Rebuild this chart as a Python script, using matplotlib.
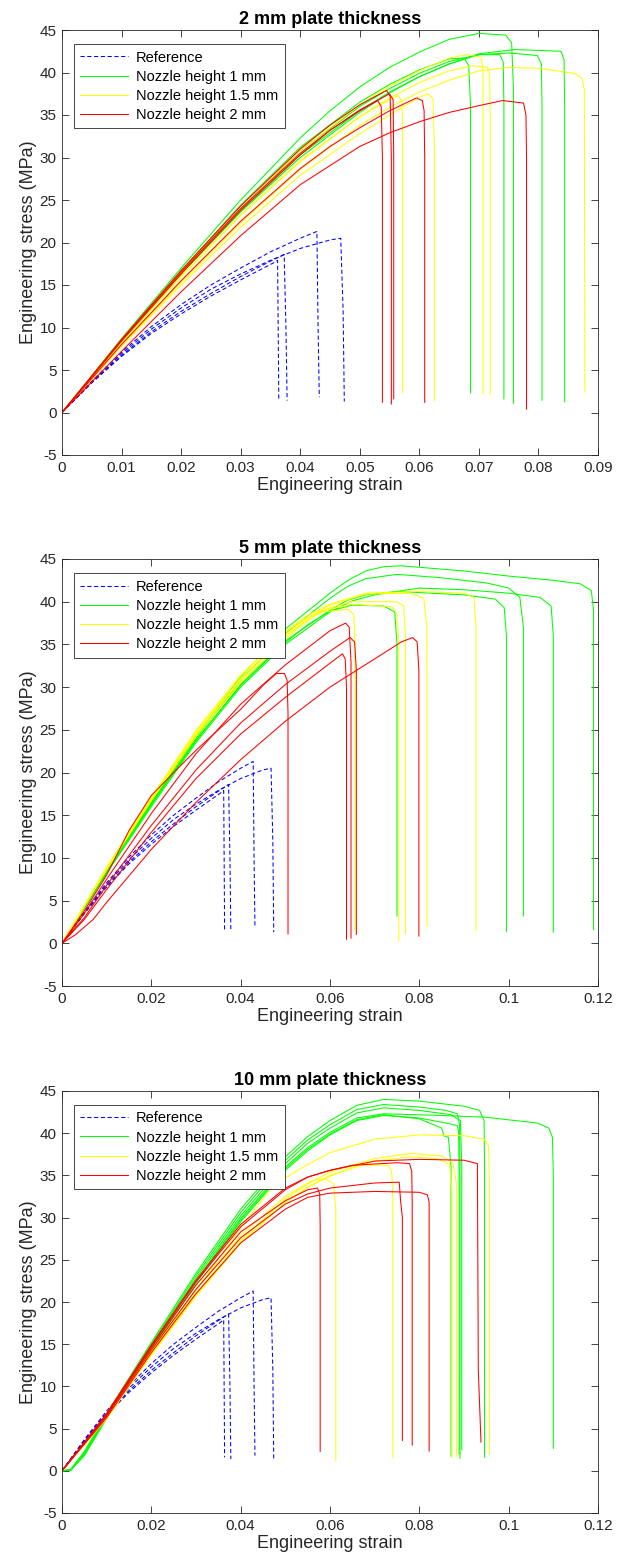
import matplotlib
matplotlib.use("Agg")
import matplotlib.pyplot as plt
from matplotlib.lines import Line2D

plt.rcParams["font.family"] = ["Liberation Sans", "DejaVu Sans"]

# =====================
# DATA (strain, stress in MPa)
# =====================
# reference specimens, same in all three panels
ref_curves = [
    [(0, 0), (0.005, 3.5), (0.01, 6.6), (0.015, 9.3), (0.02, 11.6), (0.025, 13.7),
     (0.03, 15.6), (0.0355, 17.6), (0.0362, 17.9), (0.0363, 10.0), (0.0364, 1.6)],
    [(0, 0), (0.005, 3.5), (0.01, 6.7), (0.015, 9.5), (0.02, 11.9), (0.025, 14.0),
     (0.03, 16.0), (0.035, 17.8), (0.0373, 18.6), (0.0376, 10.0), (0.0378, 1.4)],
    [(0, 0), (0.005, 3.7), (0.01, 7.1), (0.015, 10.1), (0.02, 12.7), (0.025, 15.0),
     (0.03, 17.0), (0.035, 18.9), (0.04, 20.5), (0.0428, 21.3), (0.043, 10.0), (0.0432, 1.8)],
    [(0, 0), (0.005, 3.6), (0.01, 6.9), (0.015, 9.8), (0.02, 12.3), (0.025, 14.5),
     (0.03, 16.3), (0.035, 17.9), (0.04, 19.3), (0.045, 20.3), (0.0468, 20.5),
     (0.0472, 12.0), (0.0474, 1.3)],
]

# 2 mm plate
p2_green = [
    [(0, 0), (0.01, 8.7), (0.02, 17.0), (0.03, 25.0), (0.04, 32.3), (0.045, 35.5), (0.05, 38.3),
     (0.055, 40.6), (0.06, 42.4), (0.065, 43.9), (0.07, 44.6), (0.0745, 44.4), (0.0755, 43.5),
     (0.0758, 38.0), (0.0758, 1.1)],
    [(0, 0), (0.01, 8.6), (0.02, 16.7), (0.03, 24.4), (0.04, 31.2), (0.05, 36.5), (0.055, 38.6),
     (0.06, 40.3), (0.065, 41.6), (0.0675, 41.7), (0.0683, 40.8), (0.0686, 36.0), (0.0686, 2.3)],
    [(0, 0), (0.01, 8.5), (0.02, 16.5), (0.03, 24.0), (0.04, 30.8), (0.05, 36.0), (0.055, 38.1),
     (0.06, 39.9), (0.065, 41.3), (0.07, 42.1), (0.0735, 42.1), (0.0741, 41.2), (0.0742, 36.0),
     (0.0742, 1.6)],
    [(0, 0), (0.01, 8.4), (0.02, 16.3), (0.03, 23.7), (0.04, 30.3), (0.05, 35.5), (0.055, 37.7),
     (0.06, 39.5), (0.065, 41.0), (0.07, 42.1), (0.075, 42.3), (0.0798, 42.0), (0.0805, 41.0),
     (0.0806, 36.0), (0.0806, 1.45)],
    [(0, 0), (0.01, 8.4), (0.02, 16.3), (0.03, 23.6), (0.04, 30.0), (0.05, 35.3), (0.055, 37.6),
     (0.06, 39.5), (0.065, 41.0), (0.07, 42.2), (0.076, 42.7), (0.0838, 42.5), (0.0843, 41.5),
     (0.0844, 36.0), (0.0844, 1.25)],
]
p2_yellow = [
    [(0, 0), (0.01, 8.2), (0.02, 16.0), (0.03, 23.2), (0.04, 29.5), (0.05, 34.8), (0.055, 36.8),
     (0.0565, 37.3), (0.0571, 36.5), (0.0572, 32.0), (0.0572, 2.35)],
    [(0, 0), (0.01, 7.8), (0.02, 15.0), (0.03, 21.8), (0.04, 27.9), (0.05, 32.8), (0.055, 35.0),
     (0.06, 37.1), (0.0615, 37.5), (0.0623, 36.9), (0.0625, 32.0), (0.0625, 1.4)],
    [(0, 0), (0.01, 8.5), (0.02, 16.5), (0.03, 24.0), (0.04, 30.8), (0.05, 36.2), (0.055, 38.4),
     (0.06, 40.2), (0.065, 41.7), (0.068, 42.1), (0.0703, 41.8), (0.0707, 40.5), (0.0707, 2.25)],
    [(0, 0), (0.01, 8.3), (0.02, 16.0), (0.03, 23.2), (0.04, 29.6), (0.05, 34.8), (0.055, 37.0),
     (0.06, 38.8), (0.065, 40.2), (0.069, 40.8), (0.0714, 40.6), (0.0718, 39.8), (0.0719, 35.0),
     (0.0719, 2.1)],
    [(0, 0), (0.01, 7.9), (0.02, 15.3), (0.03, 22.3), (0.04, 28.6), (0.05, 33.8), (0.055, 35.9),
     (0.06, 37.7), (0.065, 39.1), (0.07, 40.2), (0.075, 40.6), (0.08, 40.5), (0.086, 39.9),
     (0.0873, 39.3), (0.0877, 38.0), (0.0878, 2.4)],
]
p2_red = [
    [(0, 0), (0.01, 8.5), (0.02, 16.5), (0.03, 24.0), (0.04, 30.5), (0.045, 33.2), (0.05, 35.5),
     (0.053, 36.7), (0.0536, 36.0), (0.0538, 30.0), (0.0538, 1.2)],
    [(0, 0), (0.01, 8.6), (0.02, 16.7), (0.03, 24.3), (0.04, 31.0), (0.045, 33.8), (0.05, 36.2),
     (0.0545, 37.9), (0.0551, 37.2), (0.0553, 30.0), (0.0553, 1.0)],
    [(0, 0), (0.01, 8.4), (0.02, 16.3), (0.03, 23.8), (0.04, 30.3), (0.045, 33.2), (0.05, 35.6),
     (0.055, 37.5), (0.0556, 36.8), (0.0557, 30.0), (0.0557, 1.6)],
    [(0, 0), (0.01, 8.0), (0.02, 15.5), (0.03, 22.5), (0.04, 28.7), (0.045, 31.3), (0.05, 33.5),
     (0.055, 35.5), (0.0595, 37.0), (0.0605, 36.7), (0.0608, 35.5), (0.0609, 30.0), (0.0609, 1.2)],
    [(0, 0), (0.01, 7.2), (0.02, 14.2), (0.03, 20.8), (0.04, 26.8), (0.05, 31.3), (0.055, 32.9),
     (0.06, 34.2), (0.065, 35.3), (0.07, 36.1), (0.074, 36.7), (0.0775, 36.4), (0.0779, 35.0),
     (0.078, 30.0), (0.078, 0.4)],
]

# 5 mm plate
p5_green = [
    [(0, 0), (0.01, 8.5), (0.02, 16.5), (0.03, 24.3), (0.04, 31.2), (0.05, 36.8), (0.06, 41.0),
     (0.064, 42.5), (0.068, 43.6), (0.072, 44.1), (0.076, 44.2), (0.09, 43.6), (0.1, 43.0),
     (0.11, 42.5), (0.116, 42.1), (0.1185, 41.3), (0.119, 39.0), (0.119, 1.6)],
    [(0, 0), (0.01, 8.5), (0.02, 16.4), (0.03, 24.0), (0.04, 30.8), (0.05, 36.3), (0.06, 40.4),
     (0.064, 41.8), (0.068, 42.7), (0.075, 43.2), (0.085, 42.8), (0.095, 42.2), (0.1, 41.6),
     (0.1025, 40.5), (0.1033, 37.0), (0.1033, 3.2)],
    [(0, 0), (0.01, 8.2), (0.02, 16.0), (0.03, 23.5), (0.04, 30.0), (0.05, 35.0), (0.06, 38.8),
     (0.065, 40.1), (0.07, 40.8), (0.08, 41.6), (0.09, 41.4), (0.1, 41.0), (0.107, 40.5),
     (0.1095, 39.5), (0.11, 36.0), (0.11, 1.3)],
    [(0, 0), (0.01, 8.3), (0.02, 16.2), (0.03, 23.7), (0.04, 30.3), (0.05, 35.4), (0.06, 39.0),
     (0.064, 40.2), (0.068, 40.8), (0.075, 41.2), (0.09, 40.8), (0.097, 40.3), (0.099, 39.3),
     (0.0995, 36.0), (0.0995, 1.4)],
    [(0, 0), (0.01, 8.4), (0.02, 16.3), (0.03, 23.8), (0.04, 30.2), (0.05, 35.2), (0.055, 37.3),
     (0.06, 38.9), (0.065, 39.6), (0.072, 39.5), (0.0745, 38.8), (0.075, 35.0), (0.075, 3.2)],
]
p5_yellow = [
    [(0, 0), (0.01, 8.8), (0.02, 17.0), (0.03, 24.8), (0.04, 31.3), (0.05, 36.5), (0.055, 38.4),
     (0.06, 39.7), (0.068, 41.0), (0.08, 41.2), (0.09, 41.0), (0.0922, 40.5), (0.0927, 37.0),
     (0.0927, 1.5)],
    [(0, 0), (0.01, 8.7), (0.02, 16.9), (0.03, 24.6), (0.04, 31.0), (0.05, 36.1), (0.055, 38.1),
     (0.06, 39.6), (0.068, 40.9), (0.078, 41.0), (0.081, 40.4), (0.0817, 37.0), (0.0817, 2.0)],
    [(0, 0), (0.01, 8.7), (0.02, 16.8), (0.03, 24.4), (0.04, 30.8), (0.05, 35.9), (0.055, 37.9),
     (0.06, 39.3), (0.065, 40.0), (0.075, 40.0), (0.0765, 39.5), (0.0769, 36.0), (0.0769, 1.1)],
    [(0, 0), (0.01, 8.6), (0.02, 16.7), (0.03, 24.2), (0.04, 30.5), (0.05, 35.6), (0.054, 37.4),
     (0.058, 38.9), (0.065, 39.7), (0.074, 39.4), (0.075, 38.5), (0.0754, 35.0), (0.0754, 0.35)],
    [(0, 0), (0.01, 8.9), (0.02, 17.1), (0.03, 24.9), (0.04, 31.4), (0.05, 36.4), (0.054, 37.9),
     (0.058, 38.8), (0.064, 39.1), (0.0653, 38.5), (0.0656, 35.0), (0.0656, 1.5)],
]
p5_red = [
    [(0, 0), (0.005, 3.8), (0.01, 8.0), (0.015, 13.2), (0.02, 17.3), (0.025, 20.0), (0.03, 22.6),
     (0.035, 25.0), (0.04, 27.4), (0.045, 30.2), (0.048, 31.6), (0.0498, 31.6), (0.0504, 30.8),
     (0.0506, 27.0), (0.0506, 1.1)],
    [(0, 0), (0.005, 3.5), (0.01, 7.5), (0.02, 15.2), (0.03, 22.2), (0.04, 28.0), (0.05, 32.6),
     (0.055, 34.6), (0.06, 36.6), (0.0635, 37.5), (0.0643, 37.0), (0.0647, 33.0), (0.0647, 0.6)],
    [(0, 0), (0.005, 3.0), (0.01, 6.8), (0.02, 13.8), (0.03, 20.3), (0.04, 25.8), (0.05, 30.3),
     (0.06, 34.2), (0.0645, 35.8), (0.0655, 35.3), (0.0659, 32.0), (0.0659, 1.05)],
    [(0, 0), (0.005, 2.8), (0.01, 6.3), (0.02, 13.0), (0.03, 19.3), (0.04, 24.5), (0.05, 28.8),
     (0.06, 32.8), (0.0628, 33.9), (0.0634, 33.3), (0.0637, 30.0), (0.0637, 0.47)],
    [(0, 0), (0.003, 1.0), (0.007, 2.8), (0.01, 4.8), (0.02, 11.0), (0.03, 16.5), (0.04, 21.5),
     (0.05, 26.0), (0.06, 30.0), (0.07, 33.3), (0.076, 35.3), (0.0785, 35.8), (0.0795, 35.3),
     (0.0799, 32.0), (0.0799, 0.85)],
]

# 10 mm plate
p10_green = [
    [(0, 0), (0.002, 0.2), (0.005, 2.3), (0.01, 6.8), (0.02, 15.2), (0.03, 23.4), (0.04, 31.0),
     (0.05, 37.2), (0.055, 39.6), (0.06, 41.5), (0.066, 43.3), (0.072, 44.0), (0.08, 43.8),
     (0.09, 43.2), (0.0935, 42.7), (0.0945, 41.5), (0.0946, 36.0), (0.0946, 1.6)],
    [(0, 0), (0.002, 0.1), (0.005, 2.1), (0.01, 6.6), (0.02, 15.0), (0.03, 23.1), (0.04, 30.6),
     (0.05, 36.8), (0.055, 39.2), (0.06, 41.0), (0.066, 42.8), (0.072, 43.4), (0.08, 43.1),
     (0.086, 42.7), (0.0885, 42.3), (0.089, 41.0), (0.0891, 35.0), (0.0891, 1.5)],
    [(0, 0), (0.002, 0.1), (0.005, 2.0), (0.01, 6.5), (0.02, 14.8), (0.03, 22.8), (0.04, 30.2),
     (0.05, 36.4), (0.055, 38.8), (0.06, 40.6), (0.066, 42.4), (0.072, 43.0), (0.08, 42.7),
     (0.087, 42.2), (0.0892, 41.5), (0.0895, 36.0), (0.0895, 2.5)],
    [(0, 0), (0.002, 0.1), (0.005, 1.9), (0.01, 6.3), (0.02, 14.5), (0.03, 22.4), (0.04, 29.7),
     (0.05, 35.8), (0.055, 38.1), (0.06, 39.9), (0.066, 41.6), (0.072, 42.2), (0.08, 41.7),
     (0.085, 40.6), (0.0855, 39.7), (0.0865, 39.5), (0.0871, 36.0), (0.0871, 1.75)],
    [(0, 0), (0.002, 0.1), (0.005, 1.8), (0.01, 6.2), (0.02, 14.3), (0.03, 22.2), (0.04, 29.5),
     (0.05, 35.6), (0.055, 37.9), (0.06, 39.8), (0.066, 41.5), (0.072, 42.1), (0.08, 41.8),
     (0.086, 41.2), (0.0885, 40.9), (0.0888, 40.2), (0.0889, 35.0), (0.0889, 2.0)],
    [(0, 0), (0.002, 0.1), (0.005, 2.0), (0.01, 6.4), (0.02, 14.6), (0.03, 22.5), (0.04, 29.9),
     (0.05, 36.0), (0.055, 38.3), (0.06, 40.1), (0.066, 41.8), (0.072, 42.3), (0.085, 42.1),
     (0.0947, 41.9), (0.1065, 41.2), (0.109, 40.6), (0.1098, 39.5), (0.11, 35.0), (0.11, 2.66)],
]
p10_yellow = [
    [(0, 0), (0.01, 6.3), (0.02, 14.0), (0.03, 21.4), (0.04, 28.8), (0.0473, 33.8), (0.054, 36.0),
     (0.06, 37.7), (0.07, 39.3), (0.08, 39.8), (0.09, 39.7), (0.0945, 39.3), (0.0955, 38.5),
     (0.0957, 34.0), (0.0957, 2.0)],
    [(0, 0), (0.01, 6.3), (0.02, 13.9), (0.03, 21.0), (0.04, 27.3), (0.05, 32.2), (0.055, 34.0),
     (0.06, 35.4), (0.07, 37.0), (0.078, 37.6), (0.085, 37.3), (0.0875, 36.5), (0.0883, 34.0),
     (0.0883, 1.7)],
    [(0, 0), (0.01, 6.2), (0.02, 13.8), (0.03, 20.8), (0.04, 27.0), (0.05, 31.8), (0.055, 33.6),
     (0.06, 34.9), (0.066, 36.2), (0.073, 36.2), (0.0738, 35.5), (0.0741, 32.0), (0.0741, 1.56)],
    [(0, 0), (0.01, 6.4), (0.02, 14.2), (0.03, 21.5), (0.04, 27.9), (0.05, 32.5), (0.056, 34.4),
     (0.059, 34.6), (0.0608, 34.0), (0.0613, 31.0), (0.0613, 1.2)],
    [(0, 0), (0.01, 6.2), (0.02, 13.7), (0.03, 20.7), (0.04, 27.0), (0.05, 31.8), (0.055, 33.6),
     (0.06, 35.0), (0.07, 36.7), (0.078, 37.2), (0.084, 37.0), (0.0868, 36.3), (0.0873, 33.0),
     (0.0873, 1.6)],
]
p10_red = [
    [(0, 0), (0.01, 6.6), (0.02, 14.6), (0.03, 22.0), (0.04, 28.3), (0.05, 32.0), (0.055, 33.3),
     (0.0572, 33.5), (0.0577, 32.8), (0.0578, 29.0), (0.0578, 2.3)],
    [(0, 0), (0.01, 6.5), (0.02, 14.3), (0.03, 21.5), (0.04, 27.6), (0.05, 31.6), (0.055, 32.8),
     (0.06, 33.5), (0.07, 34.1), (0.0755, 34.2), (0.0758, 32.0), (0.0762, 30.0), (0.0762, 3.6)],
    [(0, 0), (0.01, 6.7), (0.02, 14.8), (0.03, 22.4), (0.04, 28.9), (0.05, 33.3), (0.055, 34.8),
     (0.06, 35.6), (0.065, 36.2), (0.075, 36.5), (0.0778, 36.4), (0.0783, 35.5), (0.0784, 32.0),
     (0.0784, 3.05)],
    [(0, 0), (0.01, 6.3), (0.02, 14.0), (0.03, 21.0), (0.04, 27.0), (0.05, 31.0), (0.055, 32.4),
     (0.06, 32.9), (0.07, 33.1), (0.08, 33.0), (0.0818, 32.7), (0.0822, 31.8), (0.0822, 2.35)],
    [(0, 0), (0.01, 6.8), (0.02, 14.9), (0.03, 22.6), (0.04, 29.2), (0.05, 33.5), (0.055, 34.8),
     (0.06, 35.6), (0.07, 36.7), (0.08, 36.9), (0.09, 36.8), (0.093, 36.4), (0.0932, 12.0),
     (0.0938, 3.4)],
]

titles = ["2 mm plate thickness", "5 mm plate thickness", "10 mm plate thickness"]
legend_labels = ["Reference", "Nozzle height 1 mm", "Nozzle height 1.5 mm", "Nozzle height 2 mm"]
panels = [
    (p2_green, p2_yellow, p2_red, 0.09, 0.01),
    (p5_green, p5_yellow, p5_red, 0.12, 0.02),
    (p10_green, p10_yellow, p10_red, 0.12, 0.02),
]
y_ticks = list(range(-5, 50, 5))

# =====================
# PLOT
# =====================
fig = plt.figure(figsize=(6.18, 15.67), dpi=100)
W, H = 618, 1567
boxes = [(62, 30, 598, 455), (62, 559, 598, 986), (62, 1091, 598, 1513)]
axcol = "#262626"
colors = ["#0000ff", "#00ff00", "#ffff00", "#ff0000"]
LW = 0.75


def xfmt(v):
    return f"{v:.2f}".rstrip("0").rstrip(".")


for (green, yellow, red, xmax, xstep), box, title in zip(panels, boxes, titles):
    l, t, r, b = box
    ax = fig.add_axes([l / W, 1 - b / H, (r - l) / W, (b - t) / H])

    for c in ref_curves:
        xs, ys = zip(*c)
        ax.plot(xs, ys, color=colors[0], lw=LW, linestyle=(0, (4, 2.5)))
    for group, col in zip([green, yellow, red], colors[1:]):
        for c in group:
            xs, ys = zip(*c)
            ax.plot(xs, ys, color=col, lw=LW)

    ax.set_xlim(0, xmax)
    ax.set_ylim(-5, 45)
    n = int(round(xmax / xstep))
    xt = [i * xstep for i in range(n + 1)]
    ax.set_xticks(xt)
    ax.set_xticklabels([xfmt(v) for v in xt])
    ax.set_yticks(y_ticks)
    ax.set_yticklabels([str(v) for v in y_ticks])
    ax.tick_params(direction="in", length=5, width=0.6, colors=axcol,
                   labelsize=11, top=True, right=True, pad=4)
    for sp in ax.spines.values():
        sp.set_color(axcol)
        sp.set_linewidth(0.6)

    ax.set_title(title, fontsize=13, fontweight="bold", pad=4)
    ax.set_xlabel("Engineering strain", fontsize=13, color=axcol, labelpad=2)
    ax.set_ylabel("Engineering stress (MPa)", fontsize=13, color=axcol, labelpad=2)

    handles = [
        Line2D([], [], color=colors[0], lw=LW, linestyle=(0, (4, 2.5))),
        Line2D([], [], color=colors[1], lw=LW),
        Line2D([], [], color=colors[2], lw=LW),
        Line2D([], [], color=colors[3], lw=LW),
    ]
    leg = ax.legend(handles, legend_labels, loc="upper left", fontsize=10.5,
                    bbox_to_anchor=(0.022, 0.967), fancybox=False, framealpha=1,
                    edgecolor=axcol, handlelength=3.3, handletextpad=0.5,
                    labelspacing=0.35, borderpad=0.45, borderaxespad=0)
    leg.get_frame().set_linewidth(0.6)

fig.savefig("out.png", dpi=100)
